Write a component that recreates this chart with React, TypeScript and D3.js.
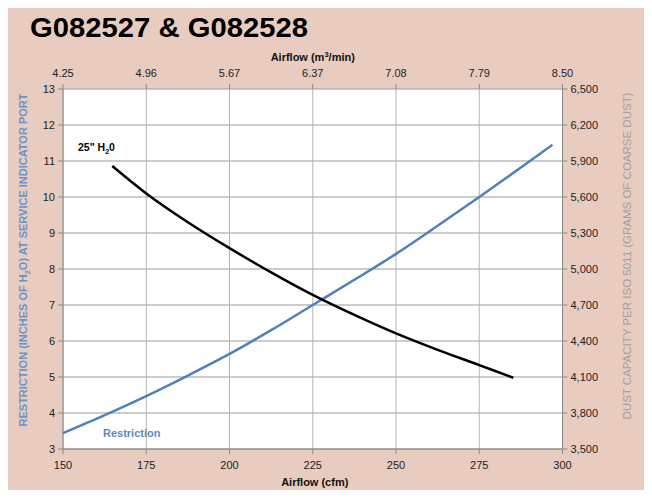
import React from "react";
import * as d3 from "d3";

const cfmTicks = [150, 175, 200, 225, 250, 275, 300];
const m3Ticks = ["4.25", "4.96", "5.67", "6.37", "7.08", "7.79", "8.50"];
const leftTicks = [3, 4, 5, 6, 7, 8, 9, 10, 11, 12, 13];
const rightTicks = [3500, 3800, 4100, 4400, 4700, 5000, 5300, 5600, 5900, 6200, 6500];

const restrictionCfm = [150, 162.5, 175, 187.5, 200, 212.5, 225, 237.5, 250, 262.5, 275, 287.5, 297];
const restrictionVal = [3.44, 3.94, 4.47, 5.04, 5.64, 6.3, 7.0, 7.7, 8.42, 9.2, 10.0, 10.82, 11.45];

const dustCfm = [164.8, 175, 187.5, 200, 212.5, 225, 237.5, 250, 262.5, 275, 285.2];
const dustVal = [5858, 5630, 5390, 5174, 4972, 4784, 4617, 4463, 4326, 4199, 4094];

const W = 652, H = 498;
const M = { left: 63, right: 562.5, top: 89, bottom: 449 };
const FONT = "'Liberation Sans', Arial, sans-serif";

export default function App() {
  const x = d3.scaleLinear().domain([150, 300]).range([M.left, M.right]);
  const yL = d3.scaleLinear().domain([3, 13]).range([M.bottom, M.top]);
  const yR = d3.scaleLinear().domain([3500, 6500]).range([M.bottom, M.top]);

  const restLine = d3
    .line<number>()
    .x((_, i) => x(restrictionCfm[i]))
    .y((d) => yL(d))
    .curve(d3.curveCatmullRom.alpha(0.5))(restrictionVal) as string;
  const dustLine = d3
    .line<number>()
    .x((_, i) => x(dustCfm[i]))
    .y((d) => yR(d))
    .curve(d3.curveCatmullRom.alpha(0.5))(dustVal) as string;

  const fmt = d3.format(",");

  return (
    <div style={{ margin: -8 }}>
      <svg width={W} height={H} style={{ display: "block", fontFamily: FONT }}>
        <rect x={0} y={0} width={W} height={H} fill="#E8CCC0" />
        <rect x={M.left} y={M.top} width={M.right - M.left} height={M.bottom - M.top} fill="#FFFFFF" />
        <text x={30} y={37} fontSize={27.5} fontWeight="bold" fill="#000" textLength={278} lengthAdjust="spacingAndGlyphs">
          G082527 &amp; G082528
        </text>
        {/* gridlines */}
        {leftTicks.map((t) => (
          <line key={"h" + t} x1={M.left} x2={M.right} y1={yL(t)} y2={yL(t)} stroke="#9a9a9a" strokeWidth={1} />
        ))}
        {cfmTicks.map((t) => (
          <line key={"v" + t} x1={x(t)} x2={x(t)} y1={M.top} y2={M.bottom} stroke="#b4b4b4" strokeWidth={1} />
        ))}
        {/* axis lines */}
        <line x1={M.left} x2={M.left} y1={M.top} y2={M.bottom} stroke="#888" />
        <line x1={M.right} x2={M.right} y1={M.top} y2={M.bottom} stroke="#888" />
        <line x1={M.left} x2={M.right} y1={M.bottom} y2={M.bottom} stroke="#888" />
        {/* ticks */}
        {leftTicks.map((t) => (
          <g key={"lt" + t}>
            <line x1={M.left - 5} x2={M.left} y1={yL(t)} y2={yL(t)} stroke="#888" />
            <text x={M.left - 8} y={yL(t) + 4} fontSize={11} textAnchor="end" fill="#222">{t}</text>
          </g>
        ))}
        {rightTicks.map((t) => (
          <g key={"rt" + t}>
            <line x1={M.right} x2={M.right + 5} y1={yR(t)} y2={yR(t)} stroke="#888" />
            <text x={M.right + 8} y={yR(t) + 4} fontSize={11} textAnchor="start" fill="#222">{fmt(t)}</text>
          </g>
        ))}
        {cfmTicks.map((t, i) => (
          <g key={"bt" + t}>
            <line x1={x(t)} x2={x(t)} y1={M.bottom} y2={M.bottom + 5} stroke="#888" />
            <text x={x(t)} y={469} fontSize={11} textAnchor="middle" fill="#222">{t}</text>
            <line x1={x(t)} x2={x(t)} y1={M.top - 5} y2={M.top} stroke="#888" />
            <text x={x(t)} y={77} fontSize={11} textAnchor="middle" fill="#222">{m3Ticks[i]}</text>
          </g>
        ))}
        {/* axis titles */}
        <text x={(M.left + M.right) / 2} y={61} fontSize={11} fontWeight="bold" textAnchor="middle" fill="#111">
          Airflow (m<tspan dy={-4} fontSize={7.5}>3</tspan><tspan dy={4}>/min)</tspan>
        </text>
        <text x={(M.left + M.right) / 2 + 2} y={486} fontSize={11} fontWeight="bold" textAnchor="middle" fill="#111">
          Airflow (cfm)
        </text>
        <text
          transform={`translate(27,260) rotate(-90)`}
          fontSize={11}
          fontWeight="bold"
          textAnchor="middle"
          fill="#6B93C8"
        >
          RESTRICTION (INCHES OF H<tspan dy={3} fontSize={7.5}>2</tspan><tspan dy={-3}>O) AT SERVICE INDICATOR PORT</tspan>
        </text>
        <text
          transform={`translate(631,256) rotate(-90)`}
          fontSize={11.5}
          textAnchor="middle"
          fill="#A0A0A0"
        >
          DUST CAPACITY PER ISO 5011 (GRAMS OF COARSE  DUST)
        </text>
        {/* series */}
        <path d={restLine} fill="none" stroke="#4F81BD" strokeWidth={2.5} />
        <path d={dustLine} fill="none" stroke="#000" strokeWidth={2.5} />
        <text x={78} y={151} fontSize={10.5} fontWeight="bold" fill="#000">
          25" H<tspan dy={3} fontSize={7}>2</tspan><tspan dy={-3}>0</tspan>
        </text>
        <text x={103} y={437} fontSize={11} fontWeight="bold" fill="#5B89C6">Restriction</text>
      </svg>
    </div>
  );
}
